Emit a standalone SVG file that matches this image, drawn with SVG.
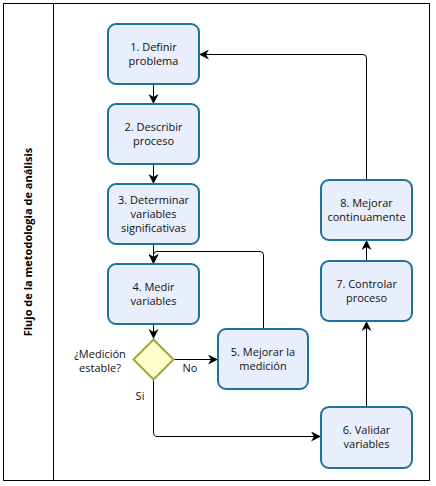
<svg xmlns="http://www.w3.org/2000/svg" width="436" height="486" viewBox="0 0 436 486">
<style>
.box{fill:#e9eefc;stroke:#1e739d;stroke-width:2}
.t{font-family:"Open Sans","DejaVu Sans",sans-serif;font-size:11px;fill:#111;text-anchor:middle}
.c{fill:none;stroke:#000;stroke-width:1}
</style>
<defs>
<marker id="ah" viewBox="0 0 10 10" refX="10" refY="5" markerWidth="10" markerHeight="10" markerUnits="userSpaceOnUse" orient="auto">
<path d="M0,0 L10,5 L0,10 L3,5 Z" fill="#000"/>
</marker>
</defs>
<rect x="3.5" y="3.5" width="426" height="477" fill="#fff" stroke="#000" stroke-width="1"/>
<line x1="53.5" y1="3.5" x2="53.5" y2="480.5" stroke="#000"/>
<text transform="translate(32,242) rotate(-90)" font-family="'Open Sans','DejaVu Sans',sans-serif" font-size="11" font-weight="bold" text-anchor="middle">Flujo de la metodologia de análisis</text>
<g id="connectors">
<path class="c" d="M153.5,84 V104" marker-end="url(#ah)"/>
<path class="c" d="M153.5,164 V184" marker-end="url(#ah)"/>
<path class="c" d="M153.5,244 V264" marker-end="url(#ah)"/>
<path class="c" d="M153.5,324 V339" marker-end="url(#ah)"/>
<path class="c" d="M173,359.5 H218" marker-end="url(#ah)"/>
<path class="c" d="M263.5,329 V255 Q263.5,251.5 260,251.5 H157 Q153.5,251.5 153.5,255 V264" marker-end="url(#ah)"/>
<path class="c" d="M153.5,379 V432 Q153.5,436.5 157,436.5 H321" marker-end="url(#ah)"/>
<path class="c" d="M366.5,407 V321" marker-end="url(#ah)"/>
<path class="c" d="M366.5,261 V240" marker-end="url(#ah)"/>
<path class="c" d="M366.5,180 V58 Q366.5,54.5 363,54.5 H199" marker-end="url(#ah)"/>
<text class="t" x="190" y="372">No</text>
<text class="t" x="140" y="400">Si</text>
</g>
<g id="n1"><rect class="box" x="108" y="24" width="91" height="60" rx="8"/><text class="t" x="153.5" y="51">1. Definir</text><text class="t" x="153.5" y="65">problema</text></g>
<g id="n2"><rect class="box" x="108" y="104" width="91" height="60" rx="8"/><text class="t" x="153.5" y="131">2. Describir</text><text class="t" x="153.5" y="145">proceso</text></g>
<g id="n3"><rect class="box" x="108" y="184" width="91" height="60" rx="8"/><text class="t" x="153.5" y="204">3. Determinar</text><text class="t" x="153.5" y="218">variables</text><text class="t" x="153.5" y="232">significativas</text></g>
<g id="n4"><rect class="box" x="108" y="264" width="91" height="60" rx="8"/><text class="t" x="153.5" y="291">4. Medir</text><text class="t" x="153.5" y="305">variables</text></g>
<g id="d1"><path d="M153.5,339.5 L173.5,359.5 L153.5,379.5 L133.5,359.5 Z" fill="#fefdcc" stroke="#a8a62a" stroke-width="2"/><text class="t" x="100" y="358">¿Medición</text><text class="t" x="100" y="372">estable?</text></g>
<g id="n5"><rect class="box" x="218" y="329" width="90" height="60" rx="8"/><text class="t" x="263" y="356">5. Mejorar la</text><text class="t" x="263" y="370">medición</text></g>
<g id="n6"><rect class="box" x="321" y="407" width="91" height="61" rx="8"/><text class="t" x="366.5" y="434">6. Validar</text><text class="t" x="366.5" y="448">variables</text></g>
<g id="n7"><rect class="box" x="321" y="261" width="91" height="60" rx="8"/><text class="t" x="366.5" y="288">7. Controlar</text><text class="t" x="366.5" y="302">proceso</text></g>
<g id="n8"><rect class="box" x="321" y="180" width="91" height="60" rx="8"/><text class="t" x="366.5" y="207">8. Mejorar</text><text class="t" x="366.5" y="221">continuamente</text></g>
</svg>
